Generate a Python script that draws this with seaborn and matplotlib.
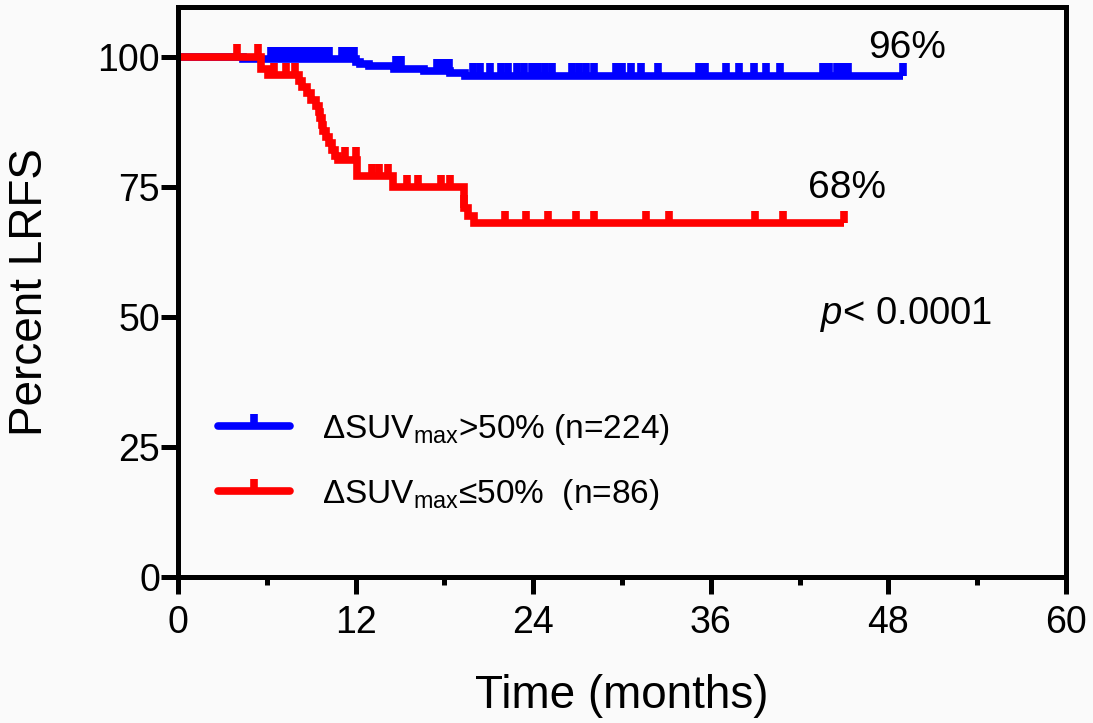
import numpy as np
import pandas as pd
import matplotlib
matplotlib.use("Agg")
import matplotlib.pyplot as plt
import seaborn as sns
from matplotlib import font_manager
from matplotlib.lines import Line2D
from matplotlib.path import Path

# ---------------- data ----------------
group_names = ["high", "low"]
legend_labels = ["\u0394SUV$_{max}$>50% (n=224)", "\u0394SUV$_{max}$\u226450%  (n=86)"]
colors = ["#0000FF", "#FF0000"]

blue_times = [0, 4.4, 12.0, 12.3, 12.9, 14.6, 16.6, 18.4, 19.4]
blue_surv = [100, 99.55, 99.1, 98.65, 98.2, 97.75, 97.3, 96.85, 96.4]
blue_end = 49.0
blue_censor = [6.3, 6.7, 7.1, 7.5, 7.9, 8.3, 8.7, 9.1, 9.5, 9.9, 10.2,
               11.1, 11.5, 11.9, 14.7, 15.1, 17.5, 17.9, 18.3,
               19.9, 20.4, 21.1, 21.8, 22.3, 22.9, 23.4, 23.9, 24.3, 24.8, 25.3,
               26.6, 27.1, 27.6, 28.1, 29.6, 30.0, 30.6, 31.3, 32.4, 35.2, 35.6,
               37.0, 37.9, 38.9, 39.7, 40.7, 43.6, 44.0, 44.5, 44.9, 45.3, 49.0]

red_times = [0, 5.6, 6.1, 8.2, 8.4, 8.7, 9.0, 9.3, 9.5, 9.6, 9.7, 9.8, 10.0,
             10.2, 10.4, 10.6, 10.8, 12.1, 14.5, 19.3, 19.6, 20.0]
red_surv = [100, 97.7, 96.5, 95.3, 94.2, 93.0, 91.8, 90.6, 89.4, 88.2, 87.0,
            85.8, 84.6, 83.4, 82.2, 81.0, 80.2, 77.1, 74.9, 71.0, 69.5, 68.0]
red_end = 45.0
red_censor = [4.0, 5.4, 6.5, 7.3, 7.9, 11.3, 12.0, 13.1, 13.6, 14.2,
              15.5, 16.2, 17.8, 18.4, 19.3, 22.1, 23.5, 25.0, 26.9, 28.1,
              31.6, 33.2, 39.0, 40.9, 45.0]

x_ticks = [0, 12, 24, 36, 48, 60]
x_minor = [6, 18, 30, 42, 54]
y_ticks = [0, 25, 50, 75, 100]

# ---------------- style ----------------
sns.set_theme(style="white")
plt.rcParams["font.family"] = ["Liberation Sans", "DejaVu Sans"]
plt.rcParams["text.color"] = "black"
plt.rcParams["mathtext.fontset"] = "custom"
plt.rcParams["mathtext.rm"] = "Liberation Sans"
plt.rcParams["mathtext.it"] = "Liberation Sans:italic"
plt.rcParams["mathtext.default"] = "regular"

names = {f.name for f in font_manager.fontManager.ttflist}
if "Liberation Sans Narrow" in names:
    tick_family, tick_size = "Liberation Sans Narrow", 31
else:
    tick_family, tick_size = "Liberation Sans", 27

bg = "#fafafa"
W, H = 1093, 723
fig = plt.figure(figsize=(W / 100, H / 100), dpi=100, facecolor=bg)
ax = fig.add_axes([178 / W, 1 - 577 / H, (1066 - 178) / W, (577 - 6.5) / H])
ax.set_facecolor(bg)

# ---------------- curves ----------------
frames = []
for g, t, s, end in [("high", blue_times, blue_surv, blue_end),
                     ("low", red_times, red_surv, red_end)]:
    frames.append(pd.DataFrame({"t": list(t) + [end], "S": list(s) + [s[-1]], "group": g}))
df = pd.concat(frames, ignore_index=True)

lw = 5.5
sns.lineplot(data=df, x="t", y="S", hue="group", palette=dict(zip(group_names, colors)),
             drawstyle="steps-post", estimator=None, sort=False, lw=lw,
             legend=False, ax=ax, solid_joinstyle="miter", solid_capstyle="butt")

tick_h = 2.4
for t, s, c, col in [(blue_times, blue_surv, blue_censor, colors[0]),
                     (red_times, red_surv, red_censor, colors[1])]:
    c = np.asarray(c)
    idx = np.searchsorted(np.asarray(t), c, side="right") - 1
    lev = np.asarray(s)[idx]
    ax.vlines(c, lev, lev + tick_h, color=col, lw=lw)

# ---------------- axes ----------------
ax.set_xlim(0, 60)
ax.set_ylim(0, 109.7)
ax.set_xticks(x_ticks)
ax.set_xticks(x_minor, minor=True)
ax.set_yticks(y_ticks)
for sp in ax.spines.values():
    sp.set_visible(True)
    sp.set_color("black")
    sp.set_linewidth(3.6)
ax.tick_params(axis="both", which="both", bottom=True, left=True, top=False, right=False)
ax.tick_params(axis="both", which="major", direction="out", length=12, width=3.6,
               color="black", labelsize=tick_size, labelcolor="black")
ax.tick_params(axis="x", which="minor", direction="out", length=6, width=3.6, color="black")
ax.tick_params(axis="y", which="major", pad=1)
ax.tick_params(axis="x", which="major", pad=8)
for lab in ax.get_xticklabels() + ax.get_yticklabels():
    lab.set_family(tick_family)

ax.set_xlabel("Time (months)", fontsize=33, color="black", va="top")
ax.set_ylabel("Percent LRFS", fontsize=33, color="black")
ax.xaxis.set_label_coords(0.5, -0.17)
ax.yaxis.set_label_coords(-0.142, 0.5)

# ---------------- annotations ----------------
ax.text(46.6, 101.8, "96%", fontsize=28, ha="left", va="center", color="black")
ax.text(42.6, 74.8, "68%", fontsize=28, ha="left", va="center", color="black")
ax.text(43.4, 50.4, r"$\mathit{p}$< 0.0001", fontsize=27.5, ha="left", va="center", color="black")

# ---------------- legend ----------------
up_tick = Path([(0, 0), (0, 1)], [Path.MOVETO, Path.LINETO])
handles = [Line2D([], [], color=c, lw=lw, solid_capstyle="round", marker=up_tick,
                  markersize=17, markeredgewidth=lw, markeredgecolor=c)
           for c in colors]
leg = ax.legend(handles, legend_labels, loc="upper left", bbox_to_anchor=(0.045, 0.289),
                frameon=False, fontsize=24, handlelength=2.16, handletextpad=0.96,
                labelspacing=0.9, borderpad=0, borderaxespad=0, numpoints=1)
for txt in leg.get_texts():
    txt.set_color("black")

fig.savefig("out.png", dpi=100, facecolor=bg)
